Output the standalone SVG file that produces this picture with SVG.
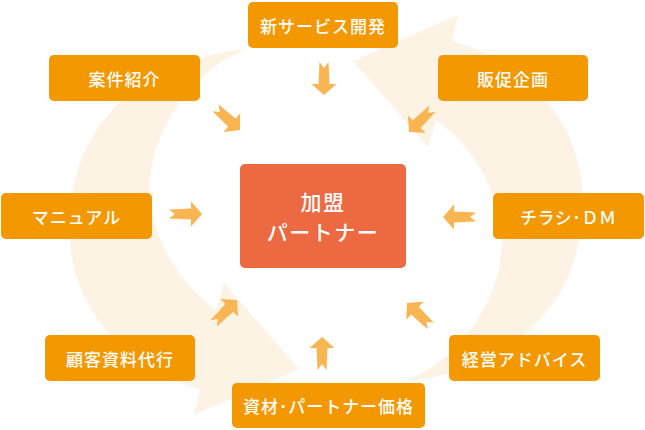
<svg xmlns="http://www.w3.org/2000/svg" width="645" height="430" viewBox="0 0 645 430">
<style>
.band{fill:#FDF3E4}
.box rect{fill:#F39800}
.box text{fill:#fff;font-family:"Noto Sans CJK JP","Noto Sans CJK SC",sans-serif;font-size:17px;font-weight:500;letter-spacing:1px;text-anchor:middle;dominant-baseline:central}
.center rect{fill:#EC6941}
.center text{fill:#fff;font-family:"Noto Sans CJK JP","Noto Sans CJK SC",sans-serif;font-size:21px;font-weight:500;letter-spacing:1.5px;text-anchor:middle;dominant-baseline:central}
.arw{fill:#F8B551}
</style>
<defs>
<path id="band" d="M458,15 L353,61 L428,147 L436,120 C478,150 502,200 502,240 C502,300 460,360 405,381 C490,374 580,320 582,210 C588,120 520,60 452,41 Z"/>
<path id="arw" d="M0,0 L-11,-12.5 L-11,-5.5 L-33,-4.5 L-27,0 L-33,4.5 L-11,5.5 L-11,12.5 Z"/>
</defs>
<g id="cycle" class="band">
<use href="#band"/>
<use href="#band" transform="rotate(180 326 215)"/>
</g>
<g id="connectors" class="arw">
<use href="#arw" transform="translate(202,214) rotate(0)"/>
<use href="#arw" transform="translate(443,217) rotate(180)"/>
<use href="#arw" transform="translate(324,95) rotate(90)"/>
<use href="#arw" transform="translate(322,337) rotate(-90)"/>
<use href="#arw" transform="translate(240,130) rotate(42)"/>
<use href="#arw" transform="translate(409,132) rotate(135)"/>
<use href="#arw" transform="translate(237,300) rotate(-45)"/>
<use href="#arw" transform="translate(407,303) rotate(-136)"/>
</g>
<g id="center" class="center">
<rect x="240" y="164" width="166" height="104" rx="5"/>
<text x="323" y="201">加盟</text>
<text x="323" y="231">パートナー</text>
</g>
<g id="n-shinservice" class="box">
<rect x="248" y="2" width="150" height="46" rx="5"/>
<text x="323" y="25">新サービス開発</text>
</g>
<g id="n-anken" class="box">
<rect x="49" y="55" width="151" height="46" rx="5"/>
<text x="124.5" y="78">案件紹介</text>
</g>
<g id="n-hansoku" class="box">
<rect x="438" y="55" width="150" height="46" rx="5"/>
<text x="513" y="78">販促企画</text>
</g>
<g id="n-manual" class="box">
<rect x="1" y="193" width="151" height="46" rx="5"/>
<text x="76.5" y="216">マニュアル</text>
</g>
<g id="n-chirashi" class="box">
<rect x="493" y="193" width="151" height="46" rx="5"/>
<text x="568.5" y="216" textLength="97" lengthAdjust="spacing">チラシ･ＤＭ</text>
</g>
<g id="n-kokyaku" class="box">
<rect x="45" y="335" width="150" height="46" rx="5"/>
<text x="120" y="358">顧客資料代行</text>
</g>
<g id="n-keiei" class="box">
<rect x="449" y="335" width="151" height="46" rx="5"/>
<text x="524.5" y="358">経営アドバイス</text>
</g>
<g id="n-shizai" class="box">
<rect x="232" y="383" width="193" height="45" rx="5"/>
<text x="328.5" y="405.5" textLength="171" lengthAdjust="spacing">資材･パートナー価格</text>
</g>
</svg>
